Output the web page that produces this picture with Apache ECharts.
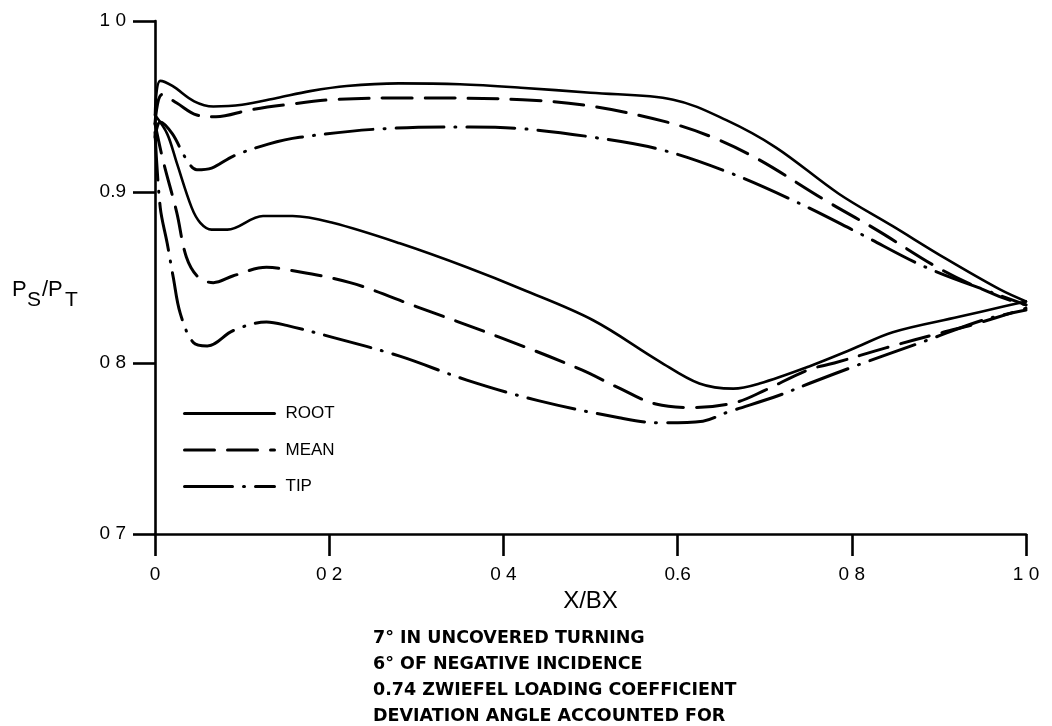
<!DOCTYPE html>
<html>
<head>
<meta charset="utf-8">
<script src="https://cdn.jsdelivr.net/npm/echarts@6/dist/echarts.min.js"></script>
<style>html,body{margin:0;padding:0;background:#fff;}#chart{width:1052px;height:726px;}</style>
</head>
<body>
<div id="chart"></div>
<script>
// ---- data (X/BX, Ps/Pt) ----
const rootUpper = [[0,0.945],[0.006,0.965],[0.02,0.962],[0.045,0.953],[0.067,0.950],[0.1,0.951],[0.14,0.955],[0.178,0.959],[0.22,0.962],[0.28,0.9635],[0.35,0.963],[0.42,0.961],[0.5,0.958],[0.595,0.954],[0.656,0.942],[0.713,0.926],[0.785,0.899],[0.847,0.880],[0.908,0.861],[0.97,0.843],[1.0,0.836]];
const rootLower = [[0,0.945],[0.014,0.934],[0.025,0.917],[0.042,0.891],[0.052,0.882],[0.065,0.878],[0.083,0.878],[0.124,0.886],[0.158,0.886],[0.204,0.882],[0.281,0.870],[0.358,0.856],[0.422,0.843],[0.503,0.825],[0.579,0.801],[0.625,0.788],[0.664,0.785],[0.694,0.788],[0.751,0.798],[0.8,0.808],[0.847,0.818],[0.923,0.827],[0.974,0.833],[1.0,0.836]];
const meanUpper = [[0,0.94],[0.008,0.957],[0.025,0.952],[0.048,0.945],[0.07,0.944],[0.109,0.948],[0.15,0.951],[0.204,0.954],[0.293,0.955],[0.422,0.954],[0.503,0.950],[0.587,0.941],[0.64,0.932],[0.693,0.919],[0.770,0.895],[0.828,0.878],[0.905,0.854],[0.969,0.839],[1.0,0.834]];
const meanLower = [[0,0.94],[0.009,0.919],[0.025,0.888],[0.036,0.862],[0.05,0.85],[0.067,0.847],[0.09,0.851],[0.128,0.856],[0.147,0.855],[0.224,0.847],[0.30,0.833],[0.396,0.815],[0.49,0.796],[0.53,0.786],[0.575,0.776],[0.62,0.774],[0.667,0.777],[0.70,0.784],[0.75,0.796],[0.78,0.80],[0.84,0.809],[0.905,0.818],[0.943,0.823],[1.0,0.832]];
const tipUpper = [[0,0.932],[0.006,0.941],[0.02,0.934],[0.035,0.92],[0.048,0.913],[0.065,0.914],[0.09,0.921],[0.13,0.928],[0.166,0.932],[0.262,0.937],[0.362,0.938],[0.422,0.937],[0.503,0.932],[0.579,0.925],[0.656,0.912],[0.733,0.895],[0.808,0.876],[0.885,0.856],[0.962,0.841],[1.0,0.834]];
const tipLower = [[0,0.935],[0.006,0.891],[0.014,0.87],[0.021,0.85],[0.029,0.829],[0.044,0.812],[0.06,0.810],[0.09,0.819],[0.128,0.824],[0.151,0.822],[0.204,0.815],[0.281,0.804],[0.358,0.790],[0.44,0.778],[0.533,0.768],[0.58,0.765],[0.629,0.766],[0.656,0.771],[0.716,0.781],[0.751,0.788],[0.808,0.799],[0.885,0.813],[0.95,0.825],[1.0,0.831]];

const xTickValues = [0, 0.2, 0.4, 0.6, 0.8, 1.0];
const xTickLabels = ['0', '0 2', '0 4', '0.6', '0 8', '1 0'];
const yTickValues = [0.7, 0.8, 0.9, 1.0];
const yTickLabels = ['0 7', '0 8', '0.9', '1 0'];
const seriesNames = ['ROOT', 'MEAN', 'TIP'];
const notes = ['7° IN UNCOVERED TURNING', '6° OF NEGATIVE INCIDENCE', '0.74 ZWIEFEL LOADING COEFFICIENT', 'DEVIATION ANGLE ACCOUNTED FOR'];

function lookup(vals, labels, v) {
  for (let i = 0; i < vals.length; i++) if (Math.abs(vals[i] - v) < 1e-6) return labels[i];
  return '';
}

const FONT = 'Liberation Sans';
const styles = {
  ROOT: { type: 'solid', width: 2.6 },
  MEAN: { type: [30, 13], width: 3 },
  TIP: { type: [48, 11, 1, 11], width: 3 }
};
function mk(name, data) {
  return {
    name: name, type: 'line', data: data, smooth: 0.35,
    symbol: 'none', showSymbol: false, silent: true,
    itemStyle: { color: '#000' },
    lineStyle: Object.assign({ color: '#000', cap: 'round', join: 'round' }, styles[name])
  };
}

const chart = echarts.init(document.getElementById('chart'), null, { renderer: 'canvas' });
const option = {
  backgroundColor: '#fff',
  animation: false,
  textStyle: { fontFamily: FONT, color: '#000' },
  grid: { left: 155, right: 26, top: 21, bottom: 192, containLabel: false },
  legend: {
    data: seriesNames,
    orient: 'vertical', left: 183, top: 405, padding: 0,
    itemWidth: 90, itemHeight: 14, itemGap: 19.5,
    itemStyle: { opacity: 0 },
    lineStyle: { width: 3 },
    textStyle: { fontFamily: FONT, fontSize: 17, color: '#000', padding: [0, 0, 0, 6] },
    selectedMode: false
  },
  xAxis: {
    type: 'value', min: 0, max: 1, interval: 0.2,
    name: 'X/BX', nameLocation: 'middle', nameGap: 55,
    nameTextStyle: { fontFamily: FONT, fontSize: 24, color: '#000' },
    axisLine: { show: true, onZero: false, lineStyle: { color: '#000', width: 2.6 } },
    axisTick: { show: true, inside: false, length: 22, lineStyle: { color: '#000', width: 2.6 } },
    axisLabel: { margin: 31, fontFamily: FONT, fontSize: 19, color: '#000',
      formatter: v => lookup(xTickValues, xTickLabels, v) },
    splitLine: { show: false }
  },
  yAxis: {
    type: 'value', min: 0.7, max: 1.0, interval: 0.1,
    axisLine: { show: true, onZero: false, lineStyle: { color: '#000', width: 2.6 } },
    axisTick: { show: true, inside: false, length: 22, lineStyle: { color: '#000', width: 2.6 } },
    axisLabel: { margin: 29, fontFamily: FONT, fontSize: 19, color: '#000',
      formatter: v => lookup(yTickValues, yTickLabels, v) },
    splitLine: { show: false }
  },
  graphic: [
    { type: 'text', left: 12, top: 279, style: { text: 'P', fontFamily: FONT, fontSize: 22, fill: '#000' } },
    { type: 'text', left: 27, top: 290, style: { text: 'S', fontFamily: FONT, fontSize: 21, fill: '#000' } },
    { type: 'text', left: 42, top: 279, style: { text: '/P', fontFamily: FONT, fontSize: 22, fill: '#000' } },
    { type: 'text', left: 65, top: 290, style: { text: 'T', fontFamily: FONT, fontSize: 21, fill: '#000' } },
    {
      type: 'text', left: 373, top: 625,
      style: {
        text: notes.join('\n'), fontFamily: 'DejaVu Sans', fontWeight: 'bold', fontSize: 17.5,
        lineHeight: 26, fill: '#000'
      }
    }
  ],
  series: [
    mk('ROOT', rootUpper), mk('ROOT', rootLower),
    mk('MEAN', meanUpper), mk('MEAN', meanLower),
    mk('TIP', tipUpper), mk('TIP', tipLower)
  ]
};
chart.setOption(option);
</script>
</body>
</html>
